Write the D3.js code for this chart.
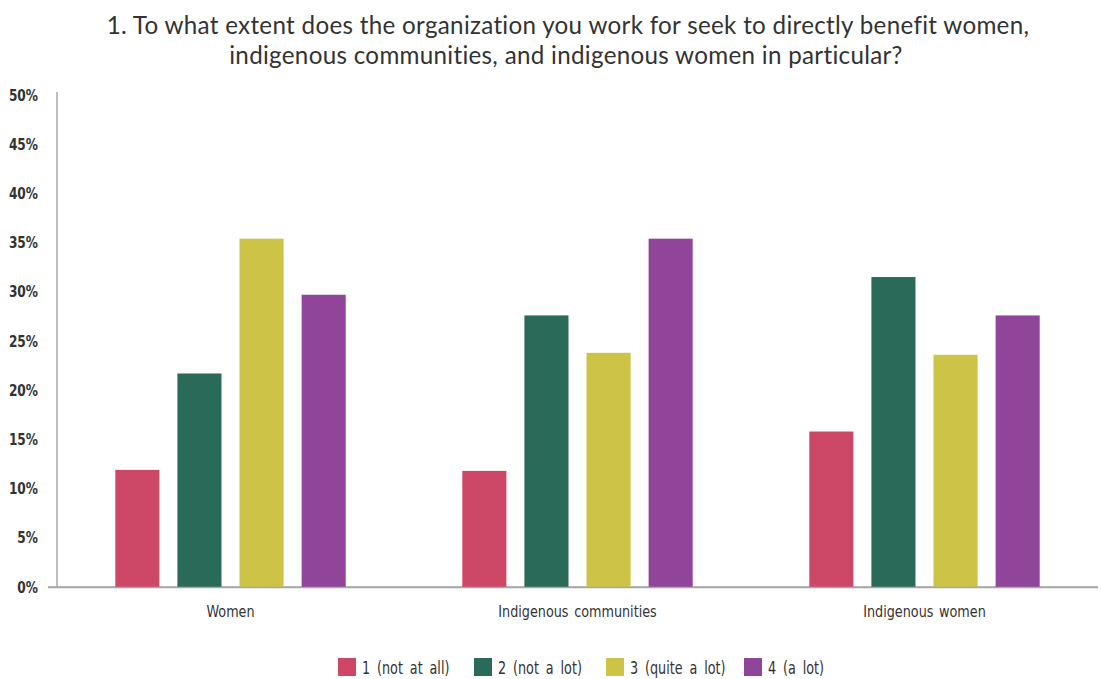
<!DOCTYPE html>
<html>
<head>
<meta charset="utf-8">
<script src="https://cdn.jsdelivr.net/npm/d3@7"></script>
<style>
  body { margin: 0; background: #fff; }
  svg text { fill: #333; }
</style>
</head>
<body>
<div id="chart"></div>
<script>
// data
const categories = ['Women', 'Indigenous communities', 'Indigenous women'];
const seriesNames = ['1 (not at all)', '2 (not a lot)', '3 (quite a lot)', '4 (a lot)'];
const notAtAll   = [11.9, 11.8, 15.8];
const notALot    = [21.7, 27.6, 31.5];
const quiteALot  = [35.4, 23.8, 23.6];
const aLot       = [29.7, 35.4, 27.6];
const yTicks = [0, 5, 10, 15, 20, 25, 30, 35, 40, 45, 50];
const colors = ['#cc4866', '#2a6a58', '#cdc447', '#91459a'];

const W = 1101, H = 679;
const margin = { top: 95, right: 3, bottom: 92, left: 57 };
const width = W - margin.left - margin.right;
const height = H - margin.top - margin.bottom;

const series = [notAtAll, notALot, quiteALot, aLot];
const rows = categories.map((c, i) => ({
  cat: c,
  vals: series.map((s, j) => ({ key: seriesNames[j], value: s[i], color: colors[j] }))
}));

const svg = d3.select('#chart').append('svg')
  .attr('width', W).attr('height', H);

// title
const title = svg.append('text')
  .attr('text-anchor', 'middle')
  .style('font-family', 'Lato, "Open Sans", sans-serif')
  .style('font-size', '24.2px')
  .style('letter-spacing', '0.3px');
title.append('tspan').attr('x', 568).attr('y', 34)
  .text('1. To what extent does the organization you work for seek to directly benefit women,');
title.append('tspan').attr('x', 566).attr('y', 64)
  .text('indigenous communities, and indigenous women in particular?');

const g = svg.append('g').attr('transform', `translate(${margin.left},${margin.top})`);

const x0 = d3.scaleBand().domain(categories).range([0, width]).paddingInner(0).paddingOuter(0);
const x1 = d3.scaleBand().domain(seriesNames)
  .range([x0.bandwidth() * 0.168, x0.bandwidth() * 0.832])
  .paddingInner(0.29);
const y = d3.scaleLinear().domain([0, 50]).range([height, 0]);

const labelFont = '"DejaVu Sans", sans-serif';

// squeeze text horizontally, keeps the anchor point where it was
function condense(sel, sx) {
  sel.each(function () {
    const t = d3.select(this);
    const x = +t.attr('x') || 0;
    t.attr('x', x / sx).attr('transform', `scale(${sx},1)`);
  });
}

// y axis
const yAxisG = g.append('g')
  .call(d3.axisLeft(y).tickValues(yTicks).tickSize(0).tickPadding(19).tickFormat(d => d + '%'));
yAxisG.select('.domain').attr('d', `M0,-3V${height}`).style('stroke', '#a6a6a6').style('stroke-width', 1.5);
yAxisG.selectAll('text')
  .style('font-family', labelFont).style('font-size', '16px').style('font-weight', 'bold')
  .call(condense, 0.76);

// x axis
const xAxisG = g.append('g').attr('transform', `translate(0,${height})`)
  .call(d3.axisBottom(x0).tickSize(0).tickPadding(19));
xAxisG.select('.domain').attr('d', `M-9,0H${width}`).style('stroke', '#a6a6a6').style('stroke-width', 1.5);
xAxisG.selectAll('text')
  .style('font-family', labelFont).style('font-size', '16px')
  .style('word-spacing', '2px')
  .call(condense, 0.8);

// bars
const groups = g.selectAll('.grp').data(rows).enter().append('g')
  .attr('class', 'grp')
  .attr('transform', d => `translate(${x0(d.cat)},0)`);

groups.selectAll('rect').data(d => d.vals).enter().append('rect')
  .attr('x', d => x1(d.key))
  .attr('width', x1.bandwidth())
  .attr('y', d => y(d.value))
  .attr('height', d => height - y(d.value))
  .attr('fill', d => d.color);

// redraw baseline on top of bars
g.append('line')
  .attr('x1', -9).attr('x2', width).attr('y1', height + 0.5).attr('y2', height + 0.5)
  .style('stroke', '#a6a6a6').style('stroke-width', 1.5);

// legend
const legendX = [338, 474, 606, 744];
const legend = svg.append('g').attr('transform', 'translate(0,658)');
const items = legend.selectAll('g').data(seriesNames).enter().append('g')
  .attr('transform', (d, i) => `translate(${legendX[i]},0)`);
items.append('rect').attr('width', 18).attr('height', 18).attr('fill', (d, i) => colors[i]);
items.append('text').attr('x', 24).attr('y', 16)
  .style('font-family', labelFont).style('font-size', '18px')
  .style('word-spacing', '4px')
  .text(d => d)
  .call(condense, 0.71);
</script>
</body>
</html>
